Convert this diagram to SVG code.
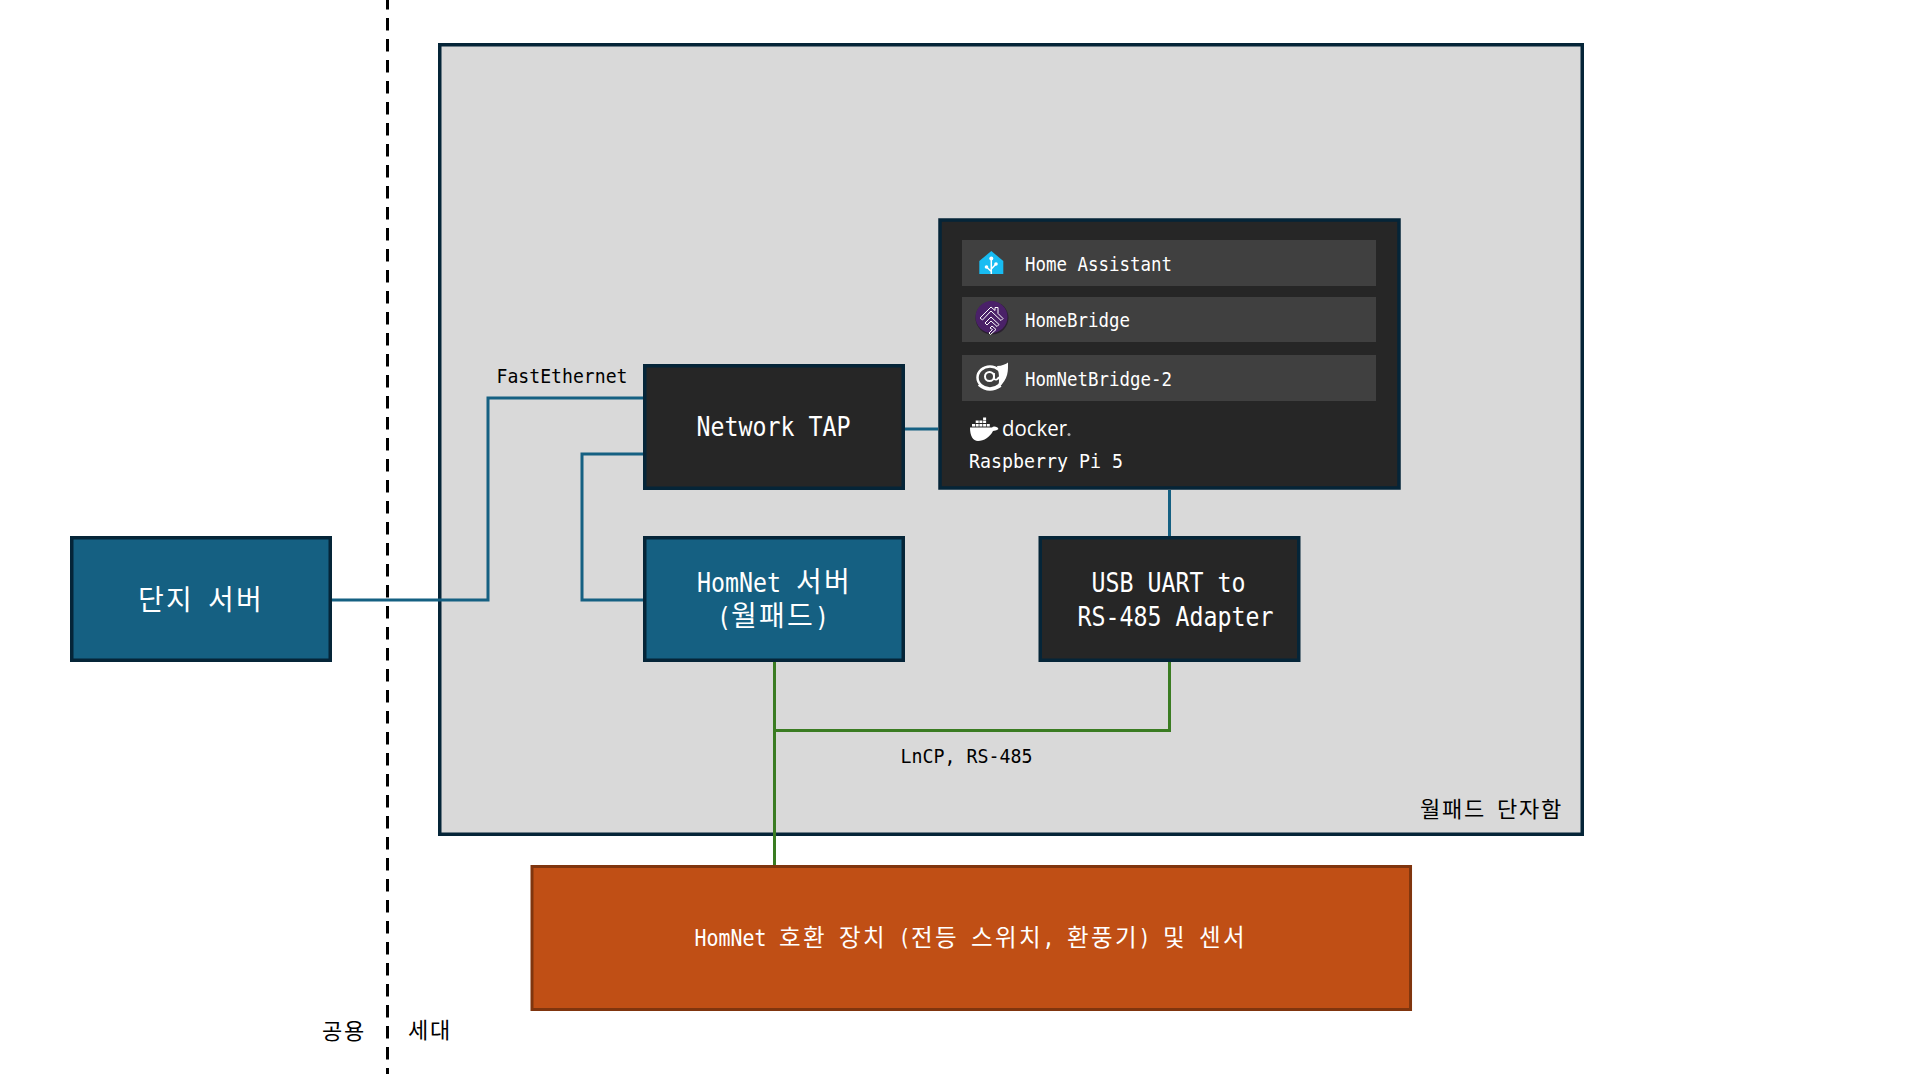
<svg xmlns="http://www.w3.org/2000/svg" width="1914" height="1074" viewBox="0 0 1914 1074">
<style>
.box{stroke:#052538;stroke-width:3.5}
.dark{fill:#262626}.teal{fill:#156082}
.row{fill:#404040}
.net{fill:none;stroke:#156082;stroke-width:3;stroke-linejoin:miter}
.rs{fill:none;stroke:#3A7C22;stroke-width:3}
text{fill:#000}
.w,.w tspan{fill:#fff}
.l{font-family:"DejaVu Sans Mono","Liberation Mono",monospace}
.k{font-family:"Noto Sans CJK KR","Noto Sans",sans-serif}
.s28 .l{font-size:27px}.s28 .k{font-size:28px}
.s24 .l{font-size:23px}.s24 .k{font-size:23.500px}
.s21 .l{font-size:20px}.s21 .k{font-size:22px}
</style>
<rect width="1914" height="1074" fill="#fff"/>
<g id="boundary"><line x1="387.5" y1="0" x2="387.5" y2="1074" stroke="#000" stroke-width="3" stroke-dasharray="12.6 8.4" stroke-dashoffset="3"/></g>
<g id="household"><rect x="439.750" y="44.750" width="1142.500" height="789.500" fill="#D9D9D9" class="box"/>
<text class="s21" y="817"><tspan class="k" x="1420 1442 1464 1497 1519 1541">월패드단자함</tspan></text></g>
<g id="connectors">
<path class="net" d="M332 600H488V398H643"/>
<path class="net" d="M643 454H582V600H643"/>
<path class="net" d="M905 429H938"/>
<path class="net" d="M1169.500 490V536"/>
<path class="rs" d="M774.500 662V866"/>
<path class="rs" d="M774.500 730.500H1169.500V662"/>
</g>
<g id="danji"><rect class="box teal" x="71.750" y="537.750" width="258.500" height="122.500"/>
<text class="s28 w" y="610"><tspan class="k" x="138 166 208 236">단지서버</tspan></text></g>
<g id="tap"><rect class="box dark" x="644.750" y="365.750" width="258.500" height="122.500"/>
<text class="s28 w" y="436"><tspan class="l" x="696.500" textLength="154" lengthAdjust="spacingAndGlyphs">Network TAP</tspan></text></g>
<g id="homnet-server"><rect class="box teal" x="644.750" y="537.750" width="258.500" height="122.500"/>
<text class="s28 w" y="592"><tspan class="l" x="697" textLength="84" lengthAdjust="spacingAndGlyphs">HomNet</tspan> <tspan class="k" x="796 824">서버</tspan></text>
<text class="s28 w" y="626"><tspan class="l" x="717" textLength="14" lengthAdjust="spacingAndGlyphs">(</tspan><tspan class="k" x="731 759 787">월패드</tspan><tspan class="l" x="815" textLength="14" lengthAdjust="spacingAndGlyphs">)</tspan></text></g>
<g id="usb"><rect class="box dark" x="1040.250" y="537.750" width="258.500" height="122.500"/>
<text class="s28 w" y="592"><tspan class="l" x="1091.500" textLength="154" lengthAdjust="spacingAndGlyphs">USB UART to</tspan></text>
<text class="s28 w" y="625.500"><tspan class="l" x="1077.500" textLength="196" lengthAdjust="spacingAndGlyphs">RS-485 Adapter</tspan></text></g>
<g id="raspberry-pi"><rect class="box dark" x="940" y="220" width="459" height="268"/>
<rect class="row" x="962" y="240" width="414" height="46"/>
<rect class="row" x="962" y="297" width="414" height="45"/>
<rect class="row" x="962" y="355" width="414" height="46"/>
<g id="icon-ha"><path d="M991.300 251L1003.300 261V274H979.300V261Z" fill="#18BCF2"/>
<path d="M991.300 258V274M991.300 271.500L986.500 267M991.300 269L996 264" stroke="#fff" stroke-width="1.500" fill="none"/>
<circle cx="991.300" cy="258.500" r="2" fill="#fff"/><circle cx="986.500" cy="267" r="1.800" fill="#fff"/><circle cx="996" cy="264" r="1.800" fill="#fff"/></g>
<g id="icon-homebridge"><circle cx="992" cy="318" r="16.500" fill="#2a2030"/><circle cx="991.500" cy="317" r="16" fill="#4A2168"/>
<path d="M980 318L991 307L995 310.500V307.500H998V313.500L1003 318.500L1001 320.500L991 311L982.500 320ZM985 323L991 317L999 324.500L997 326.500L991 321L987 325ZM990 328L992 326L996 329.500L990.500 334.500L989 333L992.500 329.500Z" fill="none" stroke="#fff" stroke-width="1"/></g>
<g id="icon-homnetbridge" fill="none" stroke="#fff">
<ellipse cx="990" cy="377.500" rx="12.500" ry="11" stroke-width="2.500"/>
<circle cx="989.500" cy="376.500" r="4.500" stroke-width="2"/>
<path d="M994 373V379Q997 381 999 377" stroke-width="1.800"/>
<path d="M997 366C1002 366 1006 364 1008 362.500C1008 370 1009 379 998 388C1000 380 999 372 997 366Z" fill="#fff" stroke="none"/>
<path d="M978.500 385Q989 394 1001 386" stroke-width="1.800"/></g>
<g id="icon-docker" fill="#fff">
<path d="M970 427.500H992C993 426 995 426 997.500 427.500L998.500 429C996.500 430.500 994.500 430.500 993 431C990 437 984 441 978 441C973 441 970 436 970 427.500Z"/>
<path d="M972 424h3v2.500h-3zM975.700 424h3v2.500h-3zM979.400 424h3v2.500h-3zM983.100 424h3v2.500h-3zM986.800 424h3v2.500h-3zM975.700 420.500h3v2.500h-3zM979.400 420.500h3v2.500h-3zM983.100 420.500h3v2.500h-3zM983.100 417.500h3v2.500h-3z"/></g>
<text x="1002" y="436" class="w" font-family="'Open Sans',Inter,sans-serif" font-size="22" textLength="65" lengthAdjust="spacingAndGlyphs">docker</text>
<circle cx="1069" cy="434.500" r="1.500" fill="#aaa"/>
<text class="s21 w" y="271"><tspan class="l" x="1025" textLength="147" lengthAdjust="spacingAndGlyphs">Home Assistant</tspan></text>
<text class="s21 w" y="327"><tspan class="l" x="1025" textLength="105" lengthAdjust="spacingAndGlyphs">HomeBridge</tspan></text>
<text class="s21 w" y="385.500"><tspan class="l" x="1025" textLength="147" lengthAdjust="spacingAndGlyphs">HomNetBridge-2</tspan></text>
<text class="s21 w" y="467.500"><tspan class="l" x="969" textLength="154" lengthAdjust="spacingAndGlyphs">Raspberry Pi 5</tspan></text></g>
<g id="devices"><rect x="532" y="866.500" width="881" height="143" fill="#C04F15" stroke="#80350E" stroke-width="3" transform="translate(532 0) scale(0.9972 1) translate(-532 0)"/>
<text class="s24 w" y="945.500"><tspan class="l" x="694.500" textLength="72" lengthAdjust="spacingAndGlyphs">HomNet</tspan> <tspan class="k" x="779 803">호환</tspan> <tspan class="k" x="839 863">장치</tspan> <tspan class="l" x="898.500" textLength="12" lengthAdjust="spacingAndGlyphs">(</tspan><tspan class="k" x="911 935">전등</tspan> <tspan class="k" x="971 995 1019">스위치</tspan><tspan class="l" x="1042.500" textLength="12" lengthAdjust="spacingAndGlyphs">,</tspan> <tspan class="k" x="1067 1091 1115">환풍기</tspan><tspan class="l" x="1138.500" textLength="12" lengthAdjust="spacingAndGlyphs">)</tspan> <tspan class="k" x="1163">및</tspan> <tspan class="k" x="1199 1223">센서</tspan></text></g>
<g id="labels">
<text class="s21" y="383"><tspan class="l" x="496.500" textLength="131" lengthAdjust="spacingAndGlyphs">FastEthernet</tspan></text>
<text class="s21" y="763"><tspan class="l" x="900.500" textLength="132" lengthAdjust="spacingAndGlyphs">LnCP, RS-485</tspan></text>
<text class="s21" y="1039"><tspan class="k" x="322 344">공용</tspan></text>
<text class="s21" y="1038"><tspan class="k" x="408 430">세대</tspan></text>
</g>
</svg>
